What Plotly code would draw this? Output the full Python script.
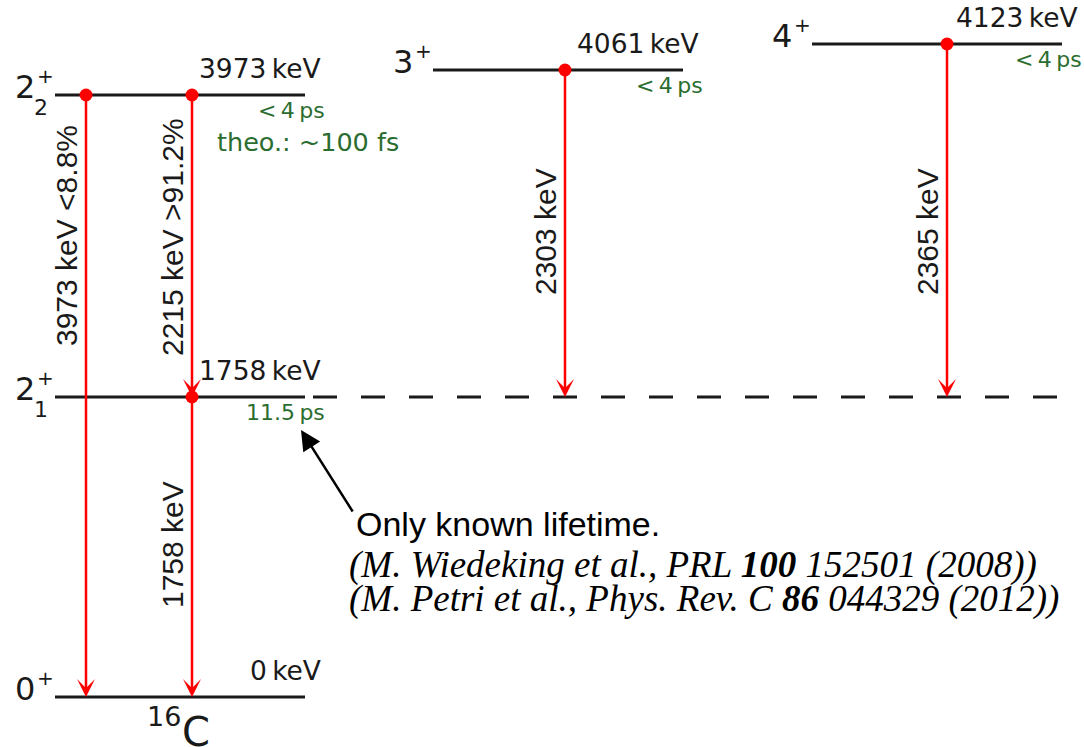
import plotly.graph_objects as go

# ---------------- data ----------------
level_energy_keV = [0, 1758, 3973, 4061, 4123]
level_spin = ["0", "2", "2", "3", "4"]
level_parity = ["+", "+", "+", "+", "+"]
level_sub = ["", "1", "2", "", ""]
level_lifetime = ["", "11.5\u2009ps", "<\u20094\u2009ps", "<\u20094\u2009ps", "<\u20094\u2009ps"]
level_note = ["", "", "theo.: ~100 fs", "", ""]

trans_energy_keV = [3973, 2215, 1758, 2303, 2365]
trans_branch = ["<8.8%", ">91.2%", "", "", ""]
trans_from = [2, 2, 1, 3, 4]
trans_to = [0, 1, 0, 1, 1]

nucleus_mass = "16"
nucleus_symbol = "C"
comment = "Only known lifetime."
refs = [
    "(M. Wiedeking et al., PRL <b>100</b> 152501 (2008))",
    "(M. Petri et al., Phys. Rev. C <b>86</b> 044329 (2012))",
]

# ---------------- drawing layout ----------------
level_y = [697, 397, 95, 70, 44]
level_x0 = [55, 55, 55, 433, 812]
level_len = 250
dash_x = [313, 1062]
trans_x = [86, 192, 192, 565, 947]
trans_label_y = [236, 237, 545, 232, 232]

BLACK = "#1a1a1a"
RED = "#ff0000"
GREEN = "#2b6d2f"
SANS = "DejaVu Sans"
ARIAL = "Liberation Sans"
SERIF = "Liberation Serif"

fig = go.Figure()
ann = []

# levels
for i, E in enumerate(level_energy_keV):
    x0 = level_x0[i]
    x1 = x0 + level_len
    y = level_y[i]
    fig.add_trace(go.Scatter(x=[x0, x1], y=[y, y], mode="lines",
                             line=dict(color=BLACK, width=3), hoverinfo="skip"))
    # energy label
    ann.append(dict(x=x1 + 17, y=y - 27, text=f"{E}\u2009keV", showarrow=False,
                    xanchor="right", yanchor="middle",
                    font=dict(family=SANS, size=26.5, color=BLACK)))
    # lifetime
    if level_lifetime[i]:
        ann.append(dict(x=x1 + 21, y=y + 15, text=level_lifetime[i], showarrow=False,
                        xanchor="right", yanchor="middle",
                        font=dict(family=SANS, size=22, color=GREEN)))
    if level_note[i]:
        ann.append(dict(x=x1 + 95, y=y + 47, text=level_note[i], showarrow=False,
                        xanchor="right", yanchor="middle",
                        font=dict(family=SANS, size=25.5, color=GREEN)))
    # spin
    ann.append(dict(x=x0 - 19, y=y - 8, text=level_spin[i], showarrow=False,
                    xanchor="right", yanchor="middle",
                    font=dict(family=SANS, size=32, color=BLACK)))
    ann.append(dict(x=x0 - 19, y=y - 19, text=level_parity[i], showarrow=False,
                    xanchor="left", yanchor="middle",
                    font=dict(family=SANS, size=20, color=BLACK)))
    if level_sub[i]:
        ann.append(dict(x=x0 - 22, y=y + 12, text=level_sub[i], showarrow=False,
                        xanchor="left", yanchor="middle",
                        font=dict(family=SANS, size=22, color=BLACK)))

# dashed extension of 2+_1
fig.add_trace(go.Scatter(x=dash_x, y=[level_y[1], level_y[1]], mode="lines",
                         line=dict(color=BLACK, width=3, dash="24px,24px"),
                         hoverinfo="skip"))

# transitions
for k, E in enumerate(trans_energy_keV):
    x = trans_x[k]
    y0 = level_y[trans_from[k]]
    y1 = level_y[trans_to[k]]
    ann.append(dict(x=x, y=y1, ax=x, ay=y0, xref="x", yref="y", axref="x", ayref="y",
                    showarrow=True, arrowhead=3, arrowsize=1.2, arrowwidth=2.5,
                    arrowcolor=RED, text=""))
    label = f"{E} keV {trans_branch[k]}".strip()
    ann.append(dict(x=x - 20, y=trans_label_y[k], text=label, showarrow=False,
                    textangle=-90, xanchor="center", yanchor="middle",
                    font=dict(family=ARIAL, size=30, color=BLACK)))

# red dots at the decaying levels
fig.add_trace(go.Scatter(x=[trans_x[k] for k in range(len(trans_x))],
                         y=[level_y[trans_from[k]] for k in range(len(trans_x))],
                         mode="markers", marker=dict(color=RED, size=13),
                         hoverinfo="skip"))

# nucleus label
ann.append(dict(x=182, y=716, text=nucleus_mass, showarrow=False,
                xanchor="right", yanchor="middle",
                font=dict(family=SANS, size=27, color=BLACK)))
ann.append(dict(x=181, y=732, text=nucleus_symbol, showarrow=False,
                xanchor="left", yanchor="middle",
                font=dict(family=SANS, size=40, color=BLACK)))

# comment arrow and text
ann.append(dict(x=301, y=430, ax=353, ay=512, xref="x", yref="y", axref="x", ayref="y",
                showarrow=True, arrowhead=2, arrowsize=1.6, arrowwidth=2.5,
                arrowcolor="#000000", text=""))
ann.append(dict(x=355, y=524, text=comment, showarrow=False,
                xanchor="left", yanchor="middle",
                font=dict(family=ARIAL, size=34, color="#000000")))
for j, r in enumerate(refs):
    ann.append(dict(x=348, y=565 + 34 * j, text=f"<i>{r}</i>", showarrow=False,
                    xanchor="left", yanchor="middle",
                    font=dict(family=SERIF, size=37, color="#000000")))

for a in ann:
    a.setdefault("xref", "x")
    a.setdefault("yref", "y")
    a.setdefault("borderpad", 0)

fig.update_layout(
    width=1084, height=747,
    margin=dict(l=0, r=0, t=0, b=0),
    paper_bgcolor="white", plot_bgcolor="white",
    showlegend=False,
    xaxis=dict(range=[0, 1084], visible=False, fixedrange=True),
    yaxis=dict(range=[747, 0], visible=False, fixedrange=True),
    annotations=ann,
)

fig.write_html("out.html")
